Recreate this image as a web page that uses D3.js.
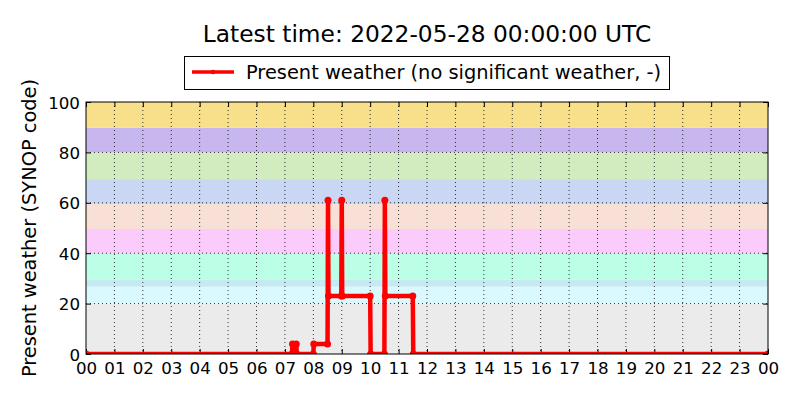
<!DOCTYPE html>
<html>
<head>
<meta charset="utf-8">
<script src="https://cdn.jsdelivr.net/npm/d3@7"></script>
<style>
  body { margin: 0; background: #fff; }
  svg { font-family: "DejaVu Sans", sans-serif; }
  .grid line { stroke: #000; stroke-width: 0.8; stroke-dasharray: 1,3; }
</style>
</head>
<body>
<svg id="chart"></svg>
<script>
// Observation times (UTC) and present weather SYNOP codes
const obsTimes = ['00:00', '07:15', '07:16', '07:24', '07:25', '08:00', '08:01', '08:30', '08:31',
  '08:32', '08:59', '09:00', '09:01', '10:00', '10:01', '10:30', '10:31', '10:32', '11:30', '11:31', '24:00'];
const obsCodes = [0, 0, 4, 4, 0, 0, 4, 4, 61, 23, 23, 61, 23, 23, 0, 0, 61, 23, 23, 0, 0];

// Background bands for SYNOP code groups
const bandLow = [0, 19.8, 26.7, 29.4, 39.7, 49.6, 59.5, 69.4, 80, 89.8];
const bandHigh = [19.8, 26.7, 29.4, 39.7, 49.6, 59.5, 69.4, 80, 89.8, 100];
const bandColors = ['#ebebeb', '#d9f9fe', '#c6eaf3', '#bbffe6', '#fbccfb', '#f9e0d6',
  '#c9d7f5', '#d2ecc0', '#c8b7ee', '#f8df8a'];

const hourTicks = d3.range(0, 25);
const codeTicks = [0, 20, 40, 60, 80, 100];

const titleText = 'Latest time: 2022-05-28 00:00:00 UTC';
const legendText = 'Present weather (no significant weather, -)';
const yLabel = 'Present weather (SYNOP code)';

const config = {
  width: 800,
  height: 400,
  margin: { top: 102, right: 32, bottom: 46, left: 86 },
  lineColor: '#ff0000',
  font: 'DejaVu Sans'
};

const data = obsTimes.map((t, i) => {
  const [h, m] = t.split(':').map(Number);
  return { hour: h + m / 60, code: obsCodes[i] };
});

const svg = d3.select('#chart')
    .attr('width', config.width)
    .attr('height', config.height);

const innerW = config.width - config.margin.left - config.margin.right;
const innerH = config.height - config.margin.top - config.margin.bottom;

const chart = svg.append('g')
    .attr('transform', `translate(${config.margin.left},${config.margin.top})`);

const xScale = d3.scaleLinear().domain([0, 24]).range([0, innerW]);
const yScale = d3.scaleLinear().domain([0, 100]).range([innerH, 0]);

svg.append('defs').append('clipPath')
    .attr('id', 'plot-clip')
    .append('rect')
    .attr('width', innerW)
    .attr('height', innerH);

// bands
chart.append('g')
    .selectAll('rect')
    .data(bandLow)
    .join('rect')
    .attr('x', 0)
    .attr('width', innerW)
    .attr('y', (d, i) => yScale(bandHigh[i]))
    .attr('height', (d, i) => yScale(d) - yScale(bandHigh[i]))
    .attr('fill', (d, i) => bandColors[i]);

// dotted grid
const grid = chart.append('g').attr('class', 'grid');
grid.selectAll('.vx')
    .data(hourTicks.slice(1, -1))
    .join('line')
    .attr('x1', d => xScale(d)).attr('x2', d => xScale(d))
    .attr('y1', 0).attr('y2', innerH);
grid.selectAll('.hy')
    .data(codeTicks.slice(1, -1))
    .join('line')
    .attr('class', 'hy')
    .attr('y1', d => yScale(d)).attr('y2', d => yScale(d))
    .attr('x1', 0).attr('x2', innerW);

// axes (ticks pointing inward on all sides)
const xAxis = chart.append('g')
    .attr('transform', `translate(0,${innerH})`)
    .call(d3.axisBottom(xScale).tickValues(hourTicks).tickSize(-5).tickFormat(d => d3.format('02d')(d % 24)));
chart.append('g')
    .call(d3.axisTop(xScale).tickValues(hourTicks).tickSize(-5).tickFormat(''));
const yAxis = chart.append('g')
    .call(d3.axisLeft(yScale).tickValues(codeTicks).tickSize(-5));
chart.append('g')
    .attr('transform', `translate(${innerW},0)`)
    .call(d3.axisRight(yScale).tickValues(codeTicks).tickSize(-5).tickFormat(''));

chart.selectAll('.domain').remove();
chart.selectAll('.tick line').attr('stroke', '#000').attr('stroke-width', 1);

[xAxis, yAxis].forEach(ax => ax
    .attr('font-family', config.font)
    .attr('font-size', 16.7));

xAxis.selectAll('text')
    .attr('fill', '#000')
    .attr('y', 0)
    .attr('dy', 20);
yAxis.selectAll('text')
    .attr('fill', '#000')
    .attr('x', -6)
    .attr('dy', '0.36em');

// series
const line = d3.line()
    .x(d => xScale(d.hour))
    .y(d => yScale(d.code));

const series = chart.append('g').attr('clip-path', 'url(#plot-clip)');
series.append('path')
    .datum(data)
    .attr('fill', 'none')
    .attr('stroke', config.lineColor)
    .attr('stroke-width', 4.5)
    .attr('stroke-linejoin', 'round')
    .attr('d', line);
series.selectAll('circle')
    .data(data)
    .join('circle')
    .attr('cx', d => xScale(d.hour))
    .attr('cy', d => yScale(d.code))
    .attr('r', 3.5)
    .attr('fill', config.lineColor);

// frame
chart.append('rect')
    .attr('width', innerW)
    .attr('height', innerH)
    .attr('fill', 'none')
    .attr('stroke', '#000')
    .attr('stroke-width', 1);

// title
svg.append('text')
    .attr('x', config.margin.left + innerW / 2)
    .attr('y', 42)
    .attr('text-anchor', 'middle')
    .style('font-size', '23.3px')
    .text(titleText);

// y label
svg.append('text')
    .attr('transform', `translate(36,${config.margin.top + innerH / 2}) rotate(-90)`)
    .attr('text-anchor', 'middle')
    .style('font-size', '19.4px')
    .text(yLabel);

// legend
const legend = svg.append('g');
legend.append('rect')
    .attr('x', 184.5).attr('y', 56.5)
    .attr('width', 485).attr('height', 33)
    .attr('fill', '#fff')
    .attr('stroke', '#000')
    .attr('stroke-width', 1);
legend.append('line')
    .attr('x1', 192).attr('x2', 234)
    .attr('y1', 72).attr('y2', 72)
    .attr('stroke', config.lineColor)
    .attr('stroke-width', 3.5);
legend.append('circle')
    .attr('cx', 213).attr('cy', 72)
    .attr('r', 2.2)
    .attr('fill', config.lineColor);
legend.append('text')
    .attr('x', 246)
    .attr('y', 79)
    .style('font-size', '19.4px')
    .text(legendText);
</script>
</body>
</html>
